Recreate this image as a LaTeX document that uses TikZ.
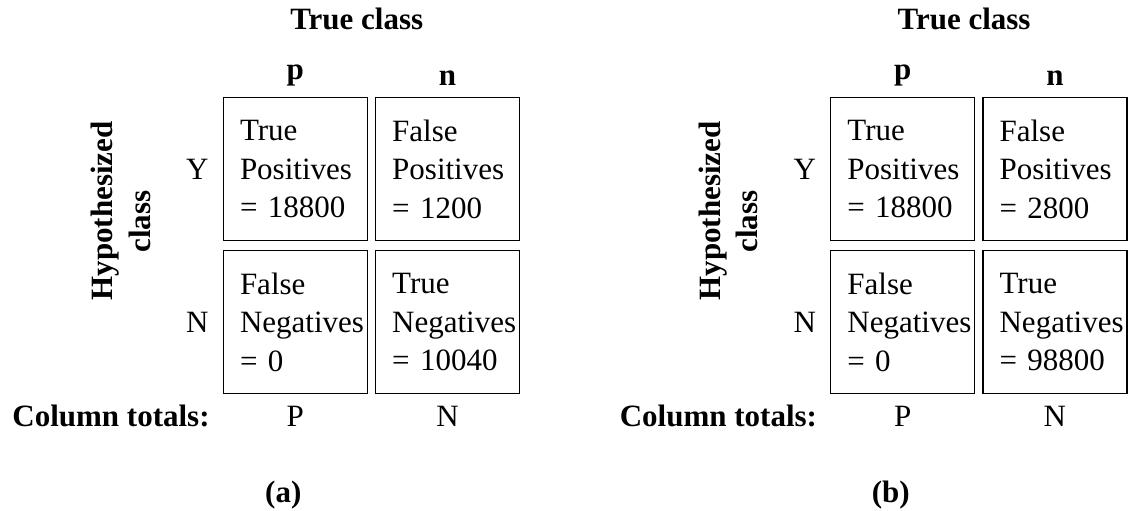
\documentclass[tikz,border=0pt]{standalone}
\usepackage{fontspec}
\setmainfont{Liberation Serif}
\newcommand\cmfigure[4]{%
  \node[cell] (TP#1) at (295.3,340.8) {True\\Positives\\= 18800};
  \node[cell] (FP#1) at (447.5,340.8) {False\\Positives\\= #2};
  \node[cell] (FN#1) at (295.3,188) {False\\Negatives\\= 0};
  \node[cell] (TN#1) at (447.5,188) {True\\Negatives\\= #3};
  \node[lbl, font=\lblfont\bfseries, anchor=base] (TC#1) at (356.7,480.7) {True class};
  \node[lbl, font=\lblfont\bfseries, anchor=south] (cp#1) at (295.3,424) {p};
  \node[lbl, font=\lblfont\bfseries, anchor=south] (cn#1) at (447.5,424) {n};
  \node[lbl, anchor=east] (rY#1) at (209,340.8) {Y};
  \node[lbl, anchor=east] (rN#1) at (209,188) {N};
  \node[lbl, font=\lblfont\bfseries, rotate=90, anchor=base] (HY#1) at (112.7,299.2) {Hypothesized};
  \node[lbl, font=\lblfont\bfseries, rotate=90, anchor=base] (HC#1) at (150,288.3) {class};
  \node[lbl, font=\lblfont\bfseries, anchor=base east] (CT#1) at (210,83.3) {Column totals:};
  \node[lbl, anchor=base] (TPtot#1) at (295.3,83.3) {P};
  \node[lbl, anchor=base] (TNtot#1) at (447.5,83.3) {N};
  \node[lbl, font=\lblfont\bfseries, anchor=base] (cap#1) at (283.3,8) {#4};
}
\newcommand\lblfont{\fontsize{15.5}{19.25}\selectfont}
\tikzset{
  cell/.style={draw=black, line width=0.6pt, minimum width=72pt, minimum height=71.5pt,
    text width=55.3pt, inner xsep=8.35pt, inner ysep=0pt, align=left,
    font=\lblfont, execute at begin node={\hyphenpenalty=10000 }},
  lbl/.style={inner sep=0pt, font=\lblfont},
}
\begin{document}
\begin{tikzpicture}[x=0.5pt,y=0.5pt]
  \useasboundingbox (0,0) rectangle (1128,510);
  \cmfigure{a}{1200}{10040}{(a)}
  \begin{scope}[xshift=303.7pt]
    \cmfigure{b}{2800}{98800}{(b)}
  \end{scope}
\end{tikzpicture}
\end{document}
